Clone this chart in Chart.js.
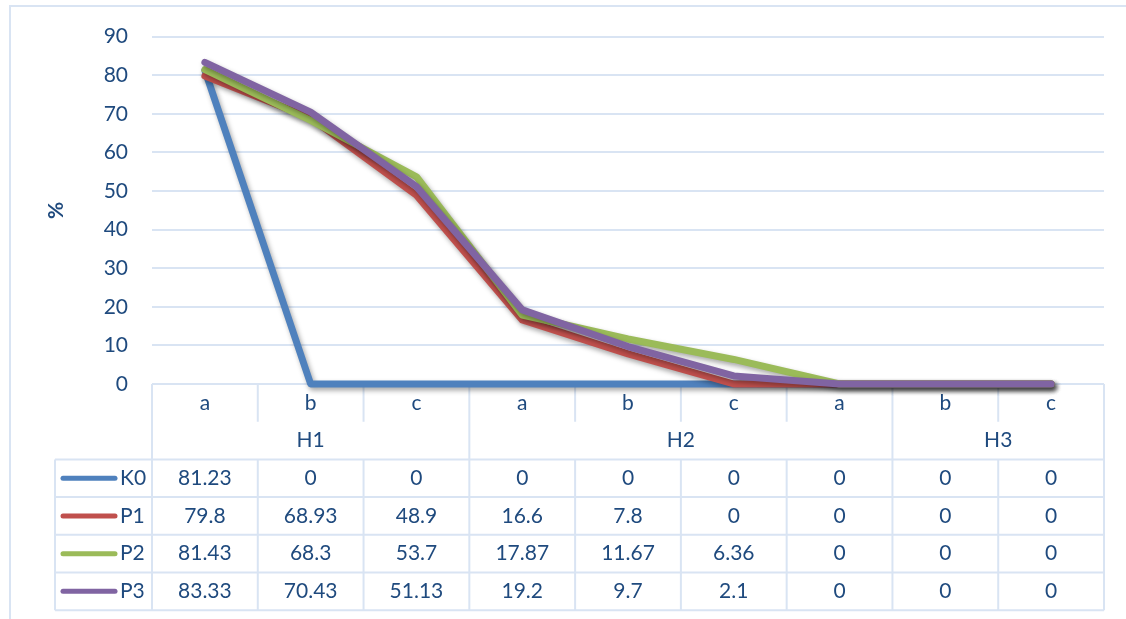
<!DOCTYPE html>
<html>
<head>
<meta charset="utf-8">
<script src="https://cdn.jsdelivr.net/npm/chart.js@4/dist/chart.umd.min.js"></script>
<style>
    html, body { margin: 0; padding: 0; background: #fff; }
    #wrap { position: relative; width: 1126px; height: 619px; }
</style>
</head>
<body>
<div id="wrap"><canvas id="lineChart"></canvas></div>
<script>
// DATA
const categories = ['a', 'b', 'c', 'a', 'b', 'c', 'a', 'b', 'c'];
const groups = ['H1', 'H2', 'H3'];
const groupSpans = [3, 4, 2];
const seriesNames = ['K0', 'P1', 'P2', 'P3'];
const valuesK0 = [81.23, 0, 0, 0, 0, 0, 0, 0, 0];
const valuesP1 = [79.8, 68.93, 48.9, 16.6, 7.8, 0, 0, 0, 0];
const valuesP2 = [81.43, 68.3, 53.7, 17.87, 11.67, 6.36, 0, 0, 0];
const valuesP3 = [83.33, 70.43, 51.13, 19.2, 9.7, 2.1, 0, 0, 0];
const yTicks = [0, 10, 20, 30, 40, 50, 60, 70, 80, 90];
const yTitle = '%';

const seriesValues = [valuesK0, valuesP1, valuesP2, valuesP3];
const seriesColors = ['#4F81BD', '#C0504D', '#9BBB59', '#8064A2'];
const textColor = '#1F4A7E';
const gridColor = '#D9E4F3';
const fontFamily = 'Lato, "Open Sans", sans-serif';
const fontSize = 21;

// sombra das linhas
const shadowPlugin = {
    id: 'lineShadow',
    beforeDatasetDraw(chart) {
        const c = chart.ctx;
        c.save();
        c.shadowColor = 'rgba(0,0,0,0.35)';
        c.shadowBlur = 5;
        c.shadowOffsetX = 2;
        c.shadowOffsetY = 3;
    },
    afterDatasetDraw(chart) {
        chart.ctx.restore();
    }
};

// moldura externa
const framePlugin = {
    id: 'frame',
    beforeDraw(chart) {
        const c = chart.ctx;
        c.save();
        c.strokeStyle = gridColor;
        c.lineWidth = 2;
        c.beginPath();
        c.moveTo(10, chart.height);
        c.lineTo(10, 6);
        c.lineTo(chart.width, 6);
        c.stroke();
        c.restore();
    }
};

// tabela de dados abaixo do gráfico
const tablePlugin = {
    id: 'dataTable',
    beforeDatasetsDraw(chart) {
        const c = chart.ctx;
        const x = chart.scales.x;
        const top = chart.chartArea.bottom;
        const half = (x.getPixelForValue(1) - x.getPixelForValue(0)) / 2;
        const edge = i => x.getPixelForValue(i) - half;
        const left = edge(0);
        const right = edge(categories.length);
        const rowH = 37.7;
        const legendLeft = 55;
        const dataTop = top + rowH * 2;
        const bottom = dataTop + rowH * seriesValues.length;

        c.save();
        c.strokeStyle = gridColor;
        c.lineWidth = 2;
        c.beginPath();
        // linhas horizontais
        c.moveTo(left, top); c.lineTo(right, top);
        for (let r = 0; r <= seriesValues.length; r++) {
            const y = dataTop + r * rowH;
            c.moveTo(legendLeft, y); c.lineTo(right, y);
        }
        // bordas laterais
        c.moveTo(left, top); c.lineTo(left, bottom);
        c.moveTo(right, top); c.lineTo(right, bottom);
        c.moveTo(legendLeft, dataTop); c.lineTo(legendLeft, bottom);
        // divisões das categorias
        for (let i = 1; i < categories.length; i++) {
            const px = edge(i);
            c.moveTo(px, top); c.lineTo(px, top + rowH);
            c.moveTo(px, dataTop); c.lineTo(px, bottom);
        }
        // divisões dos grupos
        let col = 0;
        groupSpans.forEach(span => {
            col += span;
            const px = edge(col);
            c.moveTo(px, top + rowH); c.lineTo(px, dataTop);
        });
        c.stroke();

        c.fillStyle = textColor;
        c.font = fontSize + 'px ' + fontFamily;
        c.textAlign = 'center';
        c.textBaseline = 'middle';
        categories.forEach((cat, i) => {
            c.fillText(cat, x.getPixelForValue(i), top + rowH / 2);
        });
        col = 0;
        groups.forEach((g, gi) => {
            const a = edge(col);
            col += groupSpans[gi];
            const b = edge(col);
            c.fillText(g, (a + b) / 2, top + rowH * 1.5);
        });
        seriesValues.forEach((vals, r) => {
            const cy = dataTop + r * rowH + rowH / 2;
            vals.forEach((v, i) => {
                c.textAlign = 'center';
                c.fillText(String(v), x.getPixelForValue(i), cy);
            });
            // chave da legenda
            c.strokeStyle = seriesColors[r];
            c.lineWidth = 5;
            c.lineCap = 'round';
            c.beginPath();
            c.moveTo(63, cy); c.lineTo(115, cy);
            c.stroke();
            c.textAlign = 'left';
            c.fillText(seriesNames[r], 120, cy);
        });
        c.restore();
    }
};

let myChart = null;

function renderChart() {
    const ctx = document.getElementById('lineChart').getContext('2d');
    if (myChart) {
        myChart.destroy();
    }
    myChart = new Chart(ctx, {
        type: 'line',
        data: {
            labels: categories,
            datasets: seriesNames.map((name, i) => ({
                label: name,
                data: seriesValues[i],
                borderColor: seriesColors[i],
                backgroundColor: seriesColors[i],
                borderWidth: 7,
                borderJoinStyle: 'round',
                borderCapStyle: 'round',
                pointRadius: 0,
                tension: 0,
                clip: false,
                order: seriesNames.length - i
            }))
        },
        options: {
            responsive: true,
            maintainAspectRatio: false,
            animation: false,
            devicePixelRatio: 1,
            layout: { padding: { left: 36, top: 36, right: 22, bottom: 235 } },
            scales: {
                x: {
                    display: false,
                    offset: true
                },
                y: {
                    min: 0,
                    max: 90,
                    afterBuildTicks: s => { s.ticks = yTicks.map(v => ({ value: v })); },
                    afterFit: s => { s.width = 116; },
                    border: { display: false },
                    grid: { color: gridColor, lineWidth: 2, drawTicks: false },
                    ticks: {
                        color: textColor,
                        padding: 24,
                        font: { family: fontFamily, size: fontSize }
                    },
                    title: {
                        display: true,
                        text: yTitle,
                        color: textColor,
                        padding: { top: 8, bottom: 0 },
                        font: { family: fontFamily, size: fontSize, weight: 'bold' }
                    }
                }
            },
            plugins: {
                legend: { display: false },
                tooltip: { enabled: false }
            }
        },
        plugins: [framePlugin, tablePlugin, shadowPlugin]
    });
}

renderChart();
</script>
</body>
</html>
